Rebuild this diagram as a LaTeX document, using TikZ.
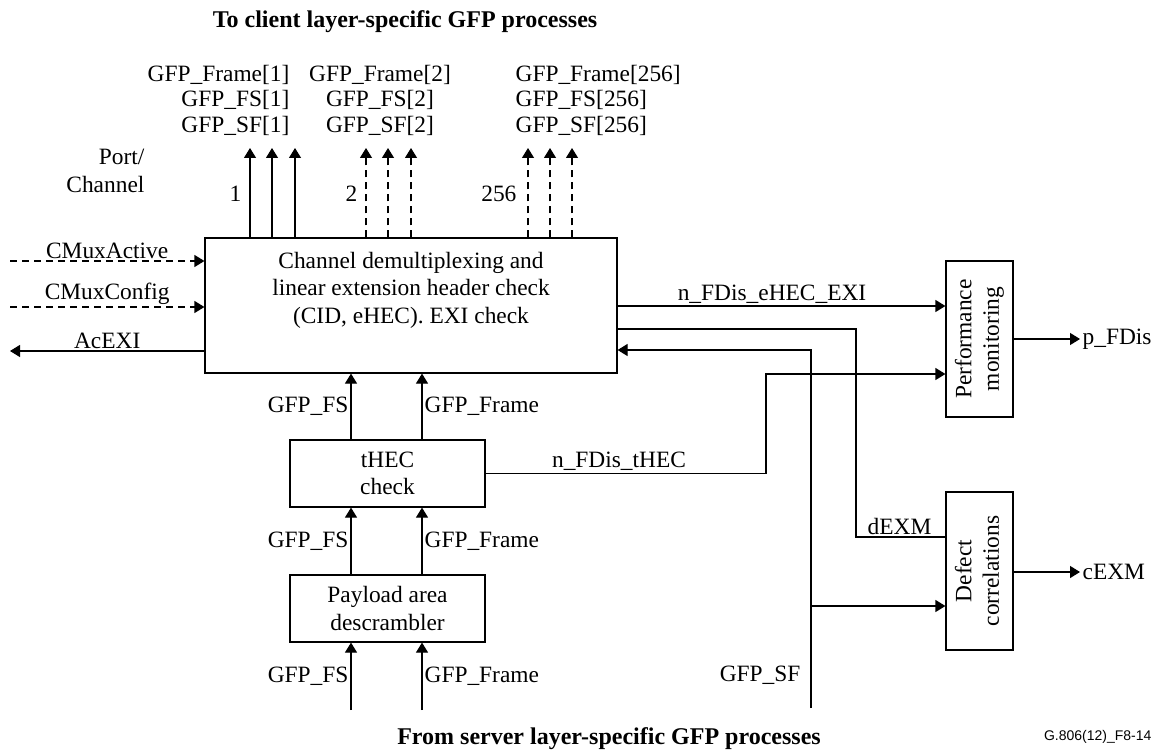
\documentclass[tikz,border=0pt]{standalone}
\usepackage{fontspec}
\setmainfont{Liberation Serif}
\setsansfont{Liberation Sans}
\usetikzlibrary{positioning, arrows.meta}

\begin{document}
\begin{tikzpicture}[x=0.5pt, y=-0.5pt, line width=0.6pt,
    font=\fontsize{11.7}{13.75}\selectfont,
    box/.style={draw, rectangle, inner sep=0pt},
    sig/.style={-{Triangle[length=5pt, width=6pt]}},
    dsig/.style={sig, dash pattern=on 3.5pt off 2.5pt},
    lbl/.style={inner sep=1pt},
    heading/.style={font=\fontsize{12}{14}\selectfont\bfseries}]
    \useasboundingbox (0,0) rectangle (1159,754);

    % Blocks
    \node[box, minimum width=206pt, minimum height=67.5pt] (demux) at (411,305.5) {};
    \node[align=center] (demuxtext) at (411,290) {Channel demultiplexing and\\linear extension header check\\(CID, eHEC). EXI check};
    \node[box, minimum width=97.5pt, minimum height=33.5pt, align=center] (thec) at (387.5,473.5) {tHEC\\check};
    \node[box, minimum width=97.5pt, minimum height=33.5pt, align=center] (desc) at (387.5,608.5) {Payload area\\descrambler};
    \node[box, minimum width=33.5pt, minimum height=78pt] (pm) at (979.5,339)
        {\rotatebox{90}{\begin{tabular}{@{}c@{}}Performance\\monitoring\end{tabular}}};
    \node[box, minimum width=33.5pt, minimum height=79pt] (dc) at (979.5,571)
        {\rotatebox{90}{\begin{tabular}{@{}c@{}}Defect\\correlations\end{tabular}}};

    % Headings
    \node[heading] (totitle) at (405,22) {To client layer-specific GFP processes};
    \node[heading] (fromtitle) at (609,739) {From server layer-specific GFP processes};
    \node[font=\fontsize{7}{8}\sffamily, anchor=east, inner sep=0pt] (figno) at (1152,737) {G.806(12)\_F8-14};

    % Port/channel outputs
    \node[align=right, anchor=east, lbl] (portlbl) at (147,171) {Port/\\Channel};
    \node[align=right, anchor=east, lbl, font=\fontsize{11.7}{12.75}\selectfont] (out1lbl) at (292,100) {GFP\_Frame[1]\\GFP\_FS[1]\\GFP\_SF[1]};
    \node[align=center, lbl, font=\fontsize{11.7}{12.75}\selectfont] (out2lbl) at (380,100) {GFP\_Frame[2]\\GFP\_FS[2]\\GFP\_SF[2]};
    \node[align=left, anchor=west, lbl, font=\fontsize{11.7}{12.75}\selectfont] (out256lbl) at (513,100) {GFP\_Frame[256]\\GFP\_FS[256]\\GFP\_SF[256]};
    \foreach \x [count=\i] in {250,272,295} {
        \coordinate (p1out\i) at (\x,148);
        \draw[sig] (demux.north -| p1out\i) -- (p1out\i);
    }
    \foreach \x [count=\i] in {366,388,411} {
        \coordinate (p2out\i) at (\x,148);
        \draw[dsig] (demux.north -| p2out\i) -- (p2out\i);
    }
    \foreach \x [count=\i] in {528,550,572} {
        \coordinate (p256out\i) at (\x,148);
        \draw[dsig] (demux.north -| p256out\i) -- (p256out\i);
    }
    \node[anchor=east, lbl] (num1) at (244,194) {1};
    \node[anchor=east, lbl] (num2) at (360,194) {2};
    \node[anchor=east, lbl] (num256) at (519,194) {256};

    % Left side signals
    \coordinate (cmaact) at (10,261);
    \coordinate (cmacfg) at (10,307);
    \coordinate (acexi) at (10,351);
    \draw[dsig] (cmaact) -- (cmaact -| demux.west) node[midway, above, lbl] (cmaactlbl) {CMuxActive};
    \draw[dsig] (cmacfg) -- (cmacfg -| demux.west) node[midway, above, lbl] (cmacfglbl) {CMuxConfig};
    \draw[sig] (acexi -| demux.west) -- (acexi) node[midway, above, lbl] (acexilbl) {AcEXI};

    % Stack of blocks
    \coordinate (fsin) at (351,710);
    \coordinate (frin) at (422,710);
    \draw[sig] (fsin) -- (desc.south -| fsin) node[midway, left, lbl] (fsin1) {GFP\_FS};
    \draw[sig] (frin) -- (desc.south -| frin) node[midway, right, lbl] (frin1) {GFP\_Frame};
    \draw[sig] (desc.north -| fsin) -- (thec.south -| fsin) node[midway, left, lbl] (fsin2) {GFP\_FS};
    \draw[sig] (desc.north -| frin) -- (thec.south -| frin) node[midway, right, lbl] (frin2) {GFP\_Frame};
    \draw[sig] (thec.north -| fsin) -- (demux.south -| fsin) node[midway, left, lbl] (fsin3) {GFP\_FS};
    \draw[sig] (thec.north -| frin) -- (demux.south -| frin) node[midway, right, lbl] (frin3) {GFP\_Frame};

    % Defect and performance signals
    \draw[sig] (demux.east |- 0,306) -- (pm.west |- 0,306);
    \node[anchor=south, lbl] (ehecexi) at (772,306) {n\_FDis\_eHEC\_EXI};
    \draw (demux.east |- 0,329) -- (856,329) -- (856,537) -- (dc.west |- 0,537);
    \node[anchor=south west, lbl] (dexm) at (865,537) {dEXM};
    \draw[sig] (thec.east) -- (766,473.5) -- (766,374) -- (pm.west |- 0,374);
    \node[anchor=south, lbl] (thecfd) at (619,473.5) {n\_FDis\_tHEC};

    % Server signal fail
    \coordinate (sfin) at (811,708);
    \coordinate (sfbranch) at (811,606);
    \draw[sig] (sfin) -- (811,350) -- (demux.east |- 0,350);
    \draw[sig] (sfbranch) -- (dc.west |- sfbranch);
    \node[anchor=east, lbl] (sflbl) at (803,675) {GFP\_SF};

    % Outputs
    \coordinate (pfdis) at (1080,339);
    \coordinate (cexm) at (1080,572);
    \draw[sig] (pm.east |- pfdis) -- (pfdis) node[right, lbl] (pfdislbl) {p\_FDis};
    \draw[sig] (dc.east |- cexm) -- (cexm) node[right, lbl] (cexmlbl) {cEXM};
\end{tikzpicture}
\end{document}
